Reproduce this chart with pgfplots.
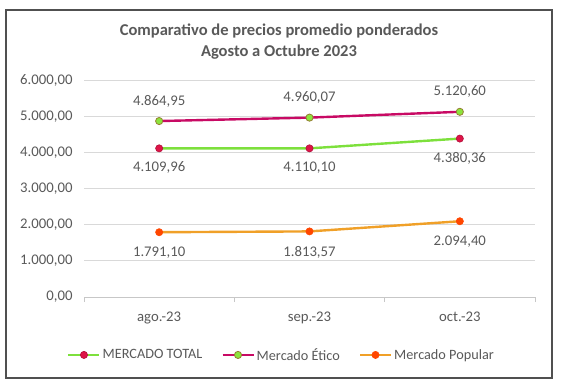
\documentclass[border=0pt]{standalone}
\usepackage{fontspec}
\setmainfont{Carlito}
\usepackage{pgfplots}
\pgfplotsset{compat=1.18}
\definecolor{txt}{HTML}{595959}
\definecolor{grd}{HTML}{D9D9D9}
\definecolor{lgreen}{RGB}{125,224,60}
\definecolor{crim}{RGB}{200,10,100}
\definecolor{crimdot}{RGB}{222,20,72}
\definecolor{gdot}{RGB}{140,228,60}
\definecolor{gdotb}{RGB}{150,125,50}
\definecolor{orl}{RGB}{240,160,40}
\definecolor{ord}{RGB}{255,70,0}
\begin{document}
\begin{tikzpicture}
\path (0,0) rectangle (567bp,383bp);
\draw[txt!90!black, line width=1.4bp] (6bp,5bp) rectangle (552bp,373bp);
\node[anchor=base, text=txt, font=\fontsize{16.6}{19}\selectfont\bfseries] at (279bp,347bp) {Comparativo de precios promedio ponderados};
\node[anchor=base, text=txt, font=\fontsize{16.6}{19}\selectfont\bfseries] at (279bp,326bp) {Agosto a Octubre 2023};
\begin{axis}[
  at={(84bp,86bp)}, anchor=south west,
  scale only axis, width=451bp, height=217bp,
  xmin=-0.5, xmax=2.5, ymin=0, ymax=6000,
  xtick={0,1,2}, xticklabels={ago.-23,sep.-23,oct.-23},
  minor xtick={-0.5,0.5,1.5,2.5},
  major x tick style={draw=none},
  minor x tick style={grd!80!gray, line width=0.8bp},
  minor tick length=5bp,
  xtick align=outside,
  ytick={0,1000,...,6000},
  ymajorgrids, grid style={grd, line width=0.8bp},
  major y tick style={draw=none},
  axis x line*=bottom, axis y line*=left,
  x axis line style={grd!80!gray, line width=0.8bp},
  y axis line style={draw=none},
  tick label style={text=txt, font=\fontsize{14.8}{17}\selectfont},
  xticklabel style={yshift=-7bp},
  yticklabel style={xshift=-8bp},
  /pgf/number format/.cd, use comma, 1000 sep={.}, fixed, fixed zerofill, precision=2, assume math mode=true,
  /pgfplots/.cd,
  legend columns=3,
  legend style={at={(0.438,-0.267)}, anchor=center, draw=none, fill=none,
    font=\fontsize{14.3}{16}\selectfont, text=txt,
    /tikz/every even column/.append style={column sep=17bp},
    inner sep=0pt},
  legend cell align=left,
  legend image code/.code={\draw[mark repeat=2,mark phase=2] plot coordinates {(0bp,0bp)(15.5bp,0bp)(31bp,0bp)};},
  nodes near coords,
  every node near coord/.append style={text=txt, font=\fontsize{14.8}{17}\selectfont, anchor=center},
]
\addplot[lgreen, line width=2.4bp, mark=*, mark size=3.6bp, mark options={fill=crimdot, draw=crimdot!80!black, line width=0.6bp},
  every node near coord/.append style={yshift=-19.5bp}]
  coordinates {(0,4109.96) (1,4110.10) (2,4380.36)};
\addlegendentry{MERCADO TOTAL}
\addplot[crim, line width=2.4bp, mark=*, mark size=3.6bp, mark options={fill=gdot, draw=gdotb, line width=0.8bp},
  every node near coord/.append style={yshift=20bp}]
  coordinates {(0,4864.95) (1,4960.07) (2,5120.60)};
\addlegendentry{Mercado Ético}
\addplot[orl, line width=2.4bp, mark=*, mark size=3.6bp, mark options={fill=ord, draw=ord, line width=0.6bp},
  every node near coord/.append style={yshift=-20.5bp}]
  coordinates {(0,1791.10) (1,1813.57) (2,2094.40)};
\addlegendentry{Mercado Popular}
\end{axis}
\end{tikzpicture}
\end{document}
